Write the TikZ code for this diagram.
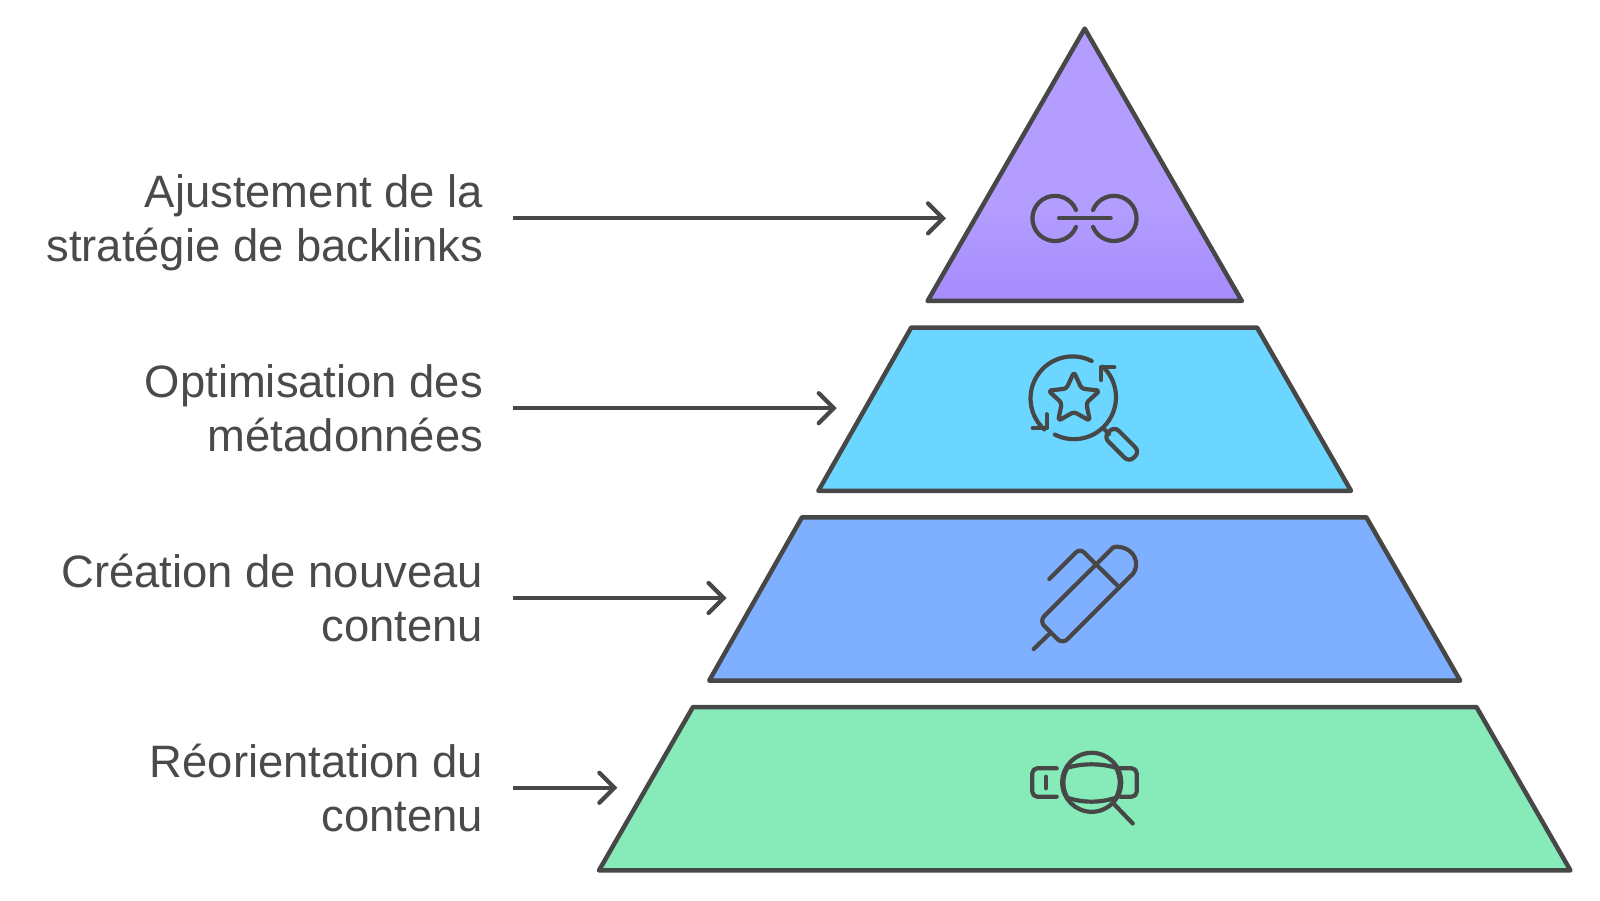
\documentclass[tikz,border=0pt]{standalone}
\usepackage{fontspec}
\setmainfont{Liberation Sans}
\usetikzlibrary{arrows.meta,shapes.geometric}
\definecolor{inkgray}{HTML}{474747}
\definecolor{txtgray}{HTML}{4A4A4A}
\definecolor{tierpurple}{HTML}{B39DFF}
\definecolor{tierpurpled}{HTML}{A58BFD}
\definecolor{tiercyan}{HTML}{6BD6FF}
\definecolor{tierblue}{HTML}{7FB0FF}
\definecolor{tiergreen}{HTML}{86EBB8}
\pgfdeclareverticalshading{tiershade}{100bp}{color(0bp)=(tierpurpled); color(25bp)=(tierpurpled); color(42bp)=(tierpurple); color(75bp)=(tierpurple); color(100bp)=(tierpurple)}
\newcommand{\lstrut}{\rule[-10.5pt]{0pt}{53.6pt}}
\tikzset{
  tier/.style={draw=inkgray,line width=4.5pt,line join=round},
  icon/.style={draw=inkgray,line width=4.2pt,line cap=round,line join=round},
  lbl/.style={anchor=east,align=right,inner sep=0pt,outer xsep=30pt,text=txtgray,font=\fontsize{45.4}{54}\selectfont},
  arr/.style={draw=inkgray,line width=4.2pt,-{Straight Barb[length=15pt,width=30pt,line cap=round]}}
}
\begin{document}
\begin{tikzpicture}[x=1pt,y=1pt]
    \useasboundingbox (0,0) rectangle (1600,900);
    % tiers
    \draw[tier,shading=tiershade] (1084.7,871.4) -- (1241.8,599) -- (927.6,599) -- cycle;
    \draw[tier,fill=tiercyan] (911.2,572.4) -- (1257.1,572.4) -- (1351,409.2) -- (818.4,409.2) -- cycle;
    \draw[tier,fill=tierblue] (802,382.7) -- (1366.3,382.7) -- (1460.2,219.4) -- (709.2,219.4) -- cycle;
    \draw[tier,fill=tiergreen] (692.9,192.9) -- (1476.5,192.9) -- (1570.4,29.6) -- (599,29.6) -- cycle;
    % labels
    \node[lbl] (lbl1) at (513,681.6) {\lstrut Ajustement de la\\\lstrut stratégie de backlinks};
    \node[lbl] (lbl2) at (513,491.8) {\lstrut Optimisation des\\\lstrut métadonnées};
    \node[lbl] (lbl3) at (513,302) {\lstrut Création de nouveau\\\lstrut contenu};
    \node[lbl] (lbl4) at (513,112.2) {\lstrut Réorientation du\\\lstrut contenu};
    % arrow tips
    \coordinate (tip1) at (946,681.6);
    \coordinate (tip2) at (836.7,491.8);
    \coordinate (tip3) at (726.5,302);
    \coordinate (tip4) at (617.3,112.2);
    \draw[arr] (lbl1.east) -- (tip1);
    \draw[arr] (lbl2.east) -- (tip2);
    \draw[arr] (lbl3.east) -- (tip3);
    \draw[arr] (lbl4.east) -- (tip4);
    % link icon
    \draw[icon] (1076,690) arc (22:338:22.6);
    \draw[icon] (1093,673.1) arc (202:518:22.6);
    \draw[icon] (1059,681.6) -- (1110.7,681.6);
    % star icon
    \draw[icon] (1091.6,539) arc (63:227.6:42);
    \draw[icon] (1046.7,485.7) -- (1046.7,471.7) -- (1032.7,471.7);
    \draw[icon] (1054.9,465.4) arc (243:406.7:42);
    \draw[icon] (1101,520) -- (1101,532.7) -- (1114.3,532.7);
    \node[star,star points=5,star point ratio=2.1,draw=inkgray,line width=4.2pt,line join=round,rounded corners=3pt,minimum size=54pt,inner sep=0pt] (staricon) at (1074,501) {};
    \draw[icon] (1103,472) -- (1109,466);
    \node[draw=inkgray,line width=4.2pt,rounded corners=6.5pt,minimum width=36pt,minimum height=15pt,inner sep=0pt,rotate=-45] (handle) at (1121.7,455.7) {};
    % pen icon
    \draw[icon] (1131.2,324.5) [rounded corners=7pt] -- (1062.5,255.8) -- (1039.3,279) -- (1108.1,347.5) [sharp corners] arc (135:-45:16.4);
    \draw[icon] (1096,335.7) -- (1119.3,312.7);
    \draw[icon,rounded corners=6pt] (1049.3,321) -- (1080,351.7) -- (1096,335.7);
    \draw[icon] (1050,266.7) -- (1033.7,251);
    % lens icon
    \draw[icon,rounded corners=5pt] (1056.7,131.7) -- (1032.3,131.7) -- (1032.3,103.3) -- (1056.7,103.3);
    \draw[icon] (1046,123.3) -- (1046,111.7);
    \draw[icon,rounded corners=5pt] (1118.3,131.7) -- (1136.7,131.7) -- (1136.7,103.3) -- (1120,103.3);
    \draw[icon] (1067.3,132.3) .. controls (1083,136.8) and (1100,136.8) .. (1116,132.3) .. controls (1121,123) and (1121,112) .. (1116,102.3) .. controls (1100,97) and (1083,97) .. (1067.3,102.3) .. controls (1062,112) and (1062,123) .. (1067.3,132.3) -- cycle;
    \draw[icon] (1091.7,117.7) circle (29.5);
    \draw[icon] (1113.3,96.7) -- (1132.7,76.5);
\end{tikzpicture}
\end{document}
